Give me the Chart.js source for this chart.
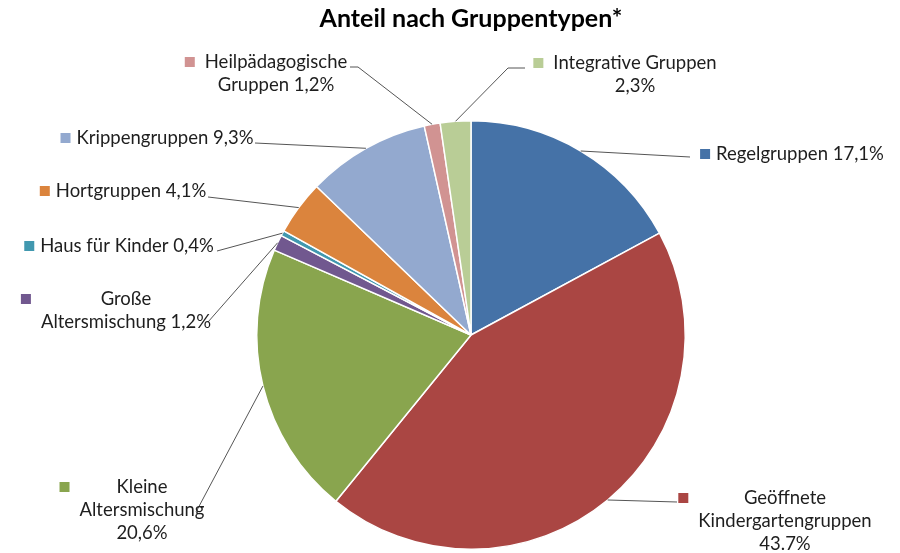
<!DOCTYPE html>
<html>
<head>
<meta charset="utf-8">
<script src="https://cdn.jsdelivr.net/npm/chart.js@4.4.0/dist/chart.umd.min.js"></script>
<style>
  body { margin: 0; background: #fff; }
  #wrap { width: 900px; height: 553px; }
</style>
</head>
<body>
<div id="wrap"><canvas id="pie_chart" width="900" height="553"></canvas></div>
<script>
// Data
const categories = ["Regelgruppen", "Geöffnete Kindergartengruppen", "Kleine Altersmischung",
  "Große Altersmischung", "Haus für Kinder", "Hortgruppen", "Krippengruppen",
  "Heilpädagogische Gruppen", "Integrative Gruppen"];
const shares = [17.1, 43.7, 20.6, 1.2, 0.4, 4.1, 9.3, 1.2, 2.3];
const sliceColors = ["#4572A7", "#AA4643", "#89A54E", "#71588F", "#4198AF",
  "#DB843D", "#93A9CF", "#D19392", "#B9CD96"];
const labelTexts = [
  ["Regelgruppen 17,1%"],
  ["Geöffnete", "Kindergartengruppen", "43.7%"],
  ["Kleine", "Altersmischung", "20,6%"],
  ["Große", "Altersmischung 1,2%"],
  ["Haus für Kinder 0,4%"],
  ["Hortgruppen 4,1%"],
  ["Krippengruppen 9,3%"],
  ["Heilpädagogische", "Gruppen 1,2%"],
  ["Integrative Gruppen", "2,3%"]
];

const FONT = "Lato, 'Open Sans', sans-serif";

// where each label sits: text block centre x, first line y, leader points (label side)
const labelPos = [
  { cx: 800, y: 154, lead: [[690, 157]] },
  { cx: 785, y: 498, lead: [[677, 502]] },
  { cx: 142, y: 487, lead: [[196, 512]] },
  { cx: 126, y: 299, lead: [[208, 322]] },
  { cx: 127, y: 246, lead: [[217, 251]] },
  { cx: 131, y: 191, lead: [[208, 197]] },
  { cx: 165, y: 138, lead: [[255, 143]] },
  { cx: 276, y: 62, lead: [[350, 67], [358, 67]] },
  { cx: 635, y: 63, lead: [[525, 68], [508, 68]] }
];

const leaderLabels = {
  id: 'leaderLabels',
  afterDraw(chart) {
    const ctx = chart.ctx;
    const meta = chart.getDatasetMeta(0);
    ctx.save();
    ctx.font = "18.5px " + FONT;
    ctx.textBaseline = 'middle';
    ctx.textAlign = 'center';
    meta.data.forEach((arc, i) => {
      const p = arc.getProps(['x', 'y', 'startAngle', 'endAngle', 'outerRadius'], true);
      const mid = (p.startAngle + p.endAngle) / 2;
      const ex = p.x + Math.cos(mid) * p.outerRadius;
      const ey = p.y + Math.sin(mid) * p.outerRadius;
      const pos = labelPos[i];

      // leader line
      ctx.strokeStyle = '#555';
      ctx.lineWidth = 1;
      ctx.beginPath();
      ctx.moveTo(pos.lead[0][0], pos.lead[0][1]);
      for (let k = 1; k < pos.lead.length; k++) ctx.lineTo(pos.lead[k][0], pos.lead[k][1]);
      ctx.lineTo(ex, ey);
      ctx.stroke();

      // text
      const lines = labelTexts[i];
      let maxW = 0;
      lines.forEach((t, k) => {
        maxW = Math.max(maxW, ctx.measureText(t).width);
        ctx.fillStyle = '#1e1e1e';
        ctx.fillText(t, pos.cx, pos.y + k * 23);
      });
      // colour square
      const gap = lines.length > 1 ? 10 : 6;
      const bx = pos.cx - maxW / 2 - gap - 10;
      ctx.fillStyle = sliceColors[i];
      ctx.fillRect(bx, pos.y - 5, 10, 10);
    });
    ctx.restore();
  }
};

new Chart(document.getElementById("pie_chart").getContext("2d"), {
  type: 'pie',
  data: {
    labels: categories,
    datasets: [{
      data: shares,
      backgroundColor: sliceColors,
      borderColor: '#ffffff',
      borderWidth: 1.5,
      hoverOffset: 0
    }]
  },
  options: {
    responsive: false,
    animation: false,
    layout: { padding: { top: 0, left: 256, right: 214, bottom: 3 } },
    plugins: {
      legend: { display: false },
      tooltip: { enabled: false },
      title: {
        display: true,
        text: 'Anteil nach Gruppentypen*',
        color: '#000',
        font: { family: FONT, size: 25, weight: 'bold' },
        padding: { top: 4, bottom: 86 }
      }
    }
  },
  plugins: [leaderLabels]
});
</script>
</body>
</html>
